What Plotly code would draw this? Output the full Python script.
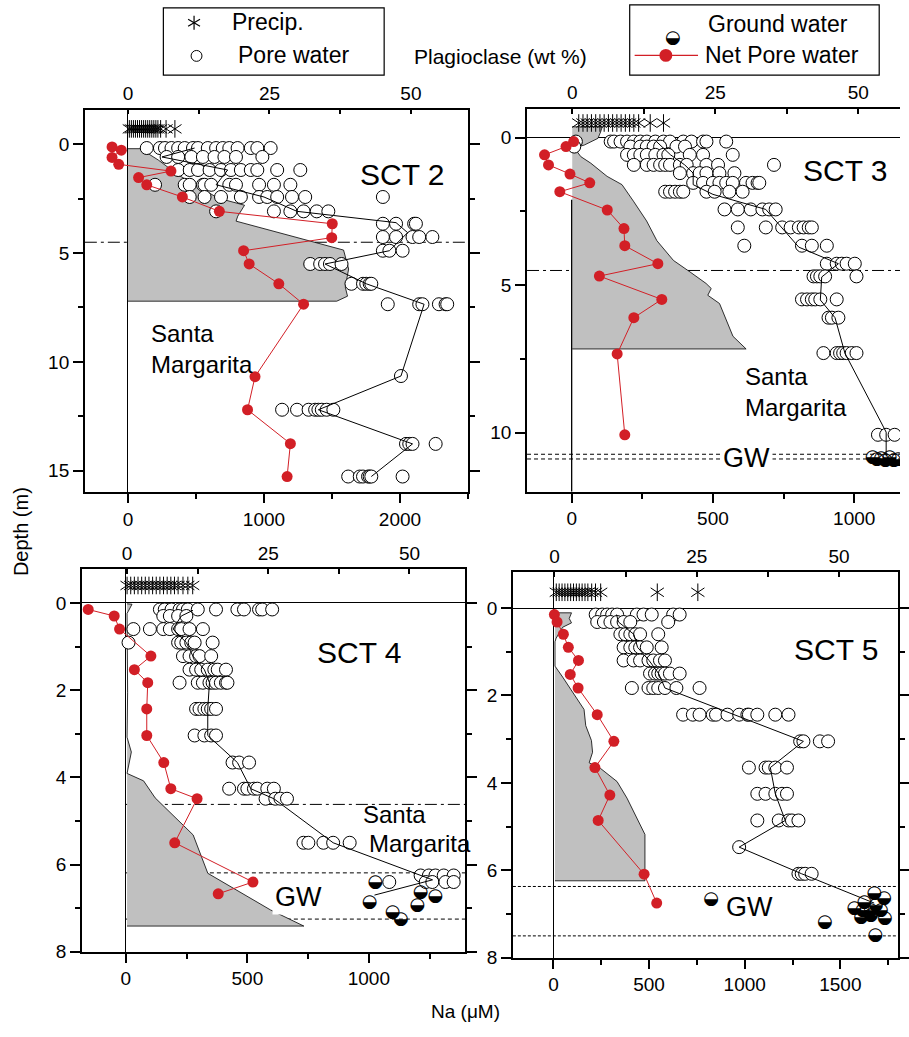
import plotly.graph_objects as go

W, H = 909, 1037
FONT = "Liberation Sans, Arial, sans-serif"
RED = "#d21f26"
GRAY = "#c0c0c0"

# ------------------------------------------------------------------ DATA
# ---- SCT 2
sct2_precip_depth = -0.71
sct2_precip_na = [10, 25, 40, 55, 70, 85, 100, 115, 130, 145, 160, 175, 190, 205, 220, 240, 280, 345]
sct2_pore_depths = [0.17, 0.58, 1.18, 1.86, 2.42, 3.08, 3.65, 4.26, 4.89, 5.5, 6.41, 7.35, 10.65, 12.2, 13.77, 15.27]
sct2_pore_na = [
    [138, 235, 272, 320, 369, 417, 478, 515, 587, 648, 697, 745, 806, 903, 951, 1049],
    [284, 369, 466, 551, 636, 709, 794, 988],
    [369, 454, 515, 600, 684, 757, 830, 903, 951, 1097, 1267],
    [199, 417, 454, 551, 563, 612, 745, 794, 964, 1073, 1194],
    [454, 563, 684, 830, 964, 1024, 1097, 1206, 1303, 1874],
    [648, 1073, 1194, 1291, 1388, 1473],
    [1874, 1971, 2104, 2117],
    [1874, 1971, 2092, 2141, 2238],
    [1874, 1922, 2019],
    [1340, 1413, 1449, 1485, 1570],
    [1643, 1728, 1752, 1777, 1789],
    [1910, 2141, 2165, 2286, 2335, 2347],
    [2007],
    [1133, 1243, 1328, 1376, 1400, 1425, 1461, 1510],
    [2044, 2068, 2092, 2262],
    [1619, 1704, 1728, 1765, 1777, 1789, 2019],
]
sct2_mean_depth = [0.17, 0.58, 1.18, 1.86, 2.42, 3.08, 3.27, 3.6, 4.06, 4.89, 5.5, 6.41, 7.35, 10.65, 12.2, 13.77, 15.27]
sct2_mean_na = [490, 250, 733, 648, 1000, 1243, 1510, 1971, 2056, 1922, 1449, 1752, 2177, 2007, 1400, 2092, 1789]
sct2_net_depth = [0.12, 0.27, 0.6, 0.92, 1.23, 1.53, 1.86, 2.42, 3.08, 3.65, 4.29, 4.89, 5.5, 6.41, 7.35, 10.68, 12.2, 13.76, 15.27]
sct2_net_na = [-117, -49, -117, -68, 316, 78, 138, 400, 672, 1502, 1498, 850, 891, 1109, 1291, 934, 879, 1194, 1170]
sct2_plag_depth = [0.2, 0.2, 0.73, 1.41, 2.47, 2.8, 3.3, 3.53, 4.86, 5.73, 6.56, 6.98, 7.21, 7.21]
sct2_plag_wt = [0.0, 2.2, 5.4, 8.9, 15.9, 20.6, 19.4, 19.1, 38.1, 39.0, 38.4, 38.8, 36.9, 0.0]

# ---- SCT 3
sct3_precip_depth = -0.5
sct3_precip_na = [25, 40, 55, 70, 85, 100, 115, 130, 145, 160, 175, 190, 205, 220, 237, 278, 325]
sct3_pore_depths = [0.13, 0.3, 0.58, 0.92, 1.2, 1.53, 1.83, 2.43, 3.04, 3.66, 4.27, 4.7, 5.48, 6.1, 7.3, 10.07]
sct3_pore_na = [
    [15, 138, 150, 173, 196, 220, 243, 266, 296, 325, 348, 395, 424, 465, 477, 547],
    [9, 208, 243, 266, 290, 313, 371, 401],
    [196, 220, 243, 266, 296, 325, 342, 418, 465, 570],
    [220, 266, 290, 313, 331, 348, 383, 407, 477, 518, 716],
    [383, 430, 453, 477, 523, 576],
    [430, 465, 500, 523, 547, 570, 617, 640, 658, 664],
    [331, 348, 366, 383, 395, 477, 506, 558, 605],
    [541, 588, 634, 675, 699, 722],
    [588, 687, 745, 775, 804, 821, 839, 850],
    [611, 815, 850, 903],
    [903, 938, 956, 973, 1002],
    [856, 868, 880, 897, 1008],
    [815, 833, 850, 862, 880, 938],
    [909, 921, 944],
    [891, 938, 950, 961, 973, 991, 1008],
    [1084, 1113, 1143],
]
sct3_mean_depth = [0.13, 0.58, 0.92, 1.2, 1.59, 1.92, 2.43, 3.71, 4.27, 4.72, 5.5, 6.1, 7.3, 9.98, 10.8]
sct3_mean_na = [300, 350, 400, 430, 430, 500, 687, 804, 944, 885, 880, 932, 967, 1113, 1113]
sct3_gw_depth = [10.85, 10.9, 10.88, 10.93, 10.85, 10.95, 10.9]
sct3_gw_na = [1065, 1080, 1095, 1110, 1125, 1140, 1155]
sct3_net_depth = [0.13, 0.3, 0.58, 0.92, 1.23, 1.53, 1.83, 2.45, 3.08, 3.66, 4.27, 4.69, 5.48, 6.1, 7.33, 10.07]
sct3_net_na = [7, -20, -96, -82, -6, 64, -42, 126, 185, 188, 305, 98, 319, 220, 161, 188]
sct3_plag_depth = [-0.37, -0.37, -0.2, 0.02, 0.25, 0.34, 0.64, 0.86, 1.31, 1.59, 2.15, 2.82, 3.49, 4.16, 4.55, 4.94, 5.11, 5.34, 5.62, 6.73, 7.16, 7.16]
sct3_plag_wt = [0.0, 5.25, 4.97, 4.5, 2.08, 0.35, 1.5, 3.23, 6.1, 8.7, 10.7, 13.0, 14.8, 17.7, 20.6, 23.4, 24.3, 23.7, 25.75, 28.1, 30.4, 0.0]

# ---- SCT 4
sct4_precip_depth = -0.4
sct4_precip_na = [5, 20, 35, 50, 65, 80, 95, 110, 125, 140, 155, 170, 185, 200, 215, 235, 255, 275]
sct4_pore_depths = [0.15, 0.3, 0.6, 0.91, 1.22, 1.53, 1.83, 2.43, 3.04, 3.66, 4.26, 4.49, 5.5, 6.25, 6.4]
sct4_pore_na = [
    [140, 160, 188, 221, 235, 255, 296, 371, 459, 486, 548, 561, 602],
    [154, 181, 215, 249],
    [31, 99, 154, 181, 215, 228, 262, 317],
    [11, 215, 228, 249, 269, 283, 357],
    [235, 262, 289, 303, 351],
    [262, 289, 310, 337, 364, 378, 412],
    [221, 296, 317, 344, 357, 371, 391, 412, 418],
    [289, 303, 323, 337, 351, 371],
    [283, 323, 351, 371],
    [439, 466, 507],
    [425, 486, 500, 527, 541, 582, 609],
    [575, 615, 636, 663],
    [731, 751, 813, 853, 921],
    [1213, 1247, 1274, 1308, 1349],
    [1084, 1234, 1261, 1315, 1349],
]
sct4_mean_depth = [0.17, 0.3, 0.6, 0.91, 1.22, 1.53, 1.83, 2.43, 3.04, 3.66, 4.26, 4.49, 5.5, 6.35, 6.7]
sct4_mean_na = [276, 228, 194, 249, 276, 323, 344, 337, 337, 459, 514, 609, 853, 1262, 1023]
sct4_gw_depth = [6.4, 6.86, 6.63, 6.74, 6.95, 7.1, 7.27]
sct4_gw_na = [1027, 1003, 1213, 1274, 1200, 1098, 1132]
sct4_net_depth = [0.15, 0.3, 0.6, 1.22, 1.53, 1.83, 2.43, 3.04, 3.66, 4.26, 4.49, 5.5, 6.4, 6.67]
sct4_net_na = [-155, -48, -26, 103, 35, 90, 86, 86, 156, 185, 293, 201, 523, 380]
sct4_plag_depth = [0.02, 0.03, 0.2, 0.24, 2.06, 3.08, 3.42, 3.91, 4.08, 4.47, 5.32, 6.2, 7.04, 7.41, 7.41]
sct4_plag_wt = [0.0, 0.88, 0.18, 0.0, 0.1, 0.0, 0.76, 0.0, 2.92, 4.97, 11.7, 14.3, 25.4, 31.3, 0.0]

# ---- SCT 5
sct5_precip_depth = -0.36
sct5_precip_na = [15, 30, 45, 60, 75, 90, 105, 120, 135, 150, 165, 180, 200, 220, 247, 543, 755]
sct5_pore_depths = [0.15, 0.32, 0.6, 0.9, 1.2, 1.5, 1.83, 2.44, 3.05, 3.65, 4.25, 4.86, 5.47, 6.08]
sct5_pore_na = [
    [221, 255, 281, 307, 333, 436, 471, 514, 626, 660],
    [229, 264, 298, 333, 367, 402, 600],
    [350, 376, 402, 428, 453, 548],
    [367, 402, 428, 453, 488, 566],
    [367, 419, 453, 497, 522, 557, 583],
    [505, 531, 548, 566, 583, 609, 660],
    [410, 497, 522, 548, 583, 643, 764],
    [678, 729, 764, 833, 850, 910, 971, 1014, 1022, 1066, 1160, 1229],
    [1290, 1307, 1393, 1436],
    [1022, 1109, 1126, 1160, 1221],
    [1066, 1109, 1160, 1195, 1221],
    [1066, 1178, 1229, 1247, 1281],
    [971],
    [1281, 1298, 1316, 1350],
]
sct5_mean_depth = [0.15, 0.32, 0.6, 0.9, 1.2, 1.5, 1.83, 3.05, 3.65, 4.25, 4.86, 5.47, 6.08, 6.75]
sct5_mean_na = [330, 340, 420, 440, 500, 550, 583, 1307, 1134, 1160, 1212, 971, 1298, 1677]
sct5_gw_depth = [6.67, 7.2, 7.5, 6.54, 6.65, 6.73, 6.8, 6.88, 6.92, 6.93, 6.93, 7.07, 7.03, 7.1]
sct5_gw_na = [824, 1419, 1683, 1678, 1729, 1626, 1686, 1574, 1617, 1660, 1712, 1609, 1660, 1733]
sct5_net_depth = [0.15, 0.32, 0.6, 0.9, 1.2, 1.52, 1.83, 2.44, 3.05, 3.65, 4.28, 4.86, 6.09, 6.75]
sct5_net_na = [5, 19, 52, 78, 131, 88, 129, 229, 316, 217, 295, 234, 474, 540]
sct5_plag_depth = [0.11, 0.11, 0.24, 0.34, 0.44, 0.69, 0.77, 1.33, 1.58, 1.94, 2.32, 2.69, 3.03, 3.3, 3.54, 3.67, 3.97, 4.35, 5.18, 6.24, 6.24]
sct5_plag_wt = [0.1, 3.0, 2.6, 3.0, 1.45, 0.3, 0.1, 0.1, 1.45, 3.2, 5.2, 5.5, 6.5, 6.7, 6.1, 8.1, 11.0, 12.75, 15.9, 15.9, 0.1]

# tick labels
plag_ticks = [0, 25, 50]


# ------------------------------------------------------------------ helpers
def px(x):
    return x / W


def py(y):
    return 1 - y / H


def flatten(depths, rows):
    xs, ys = [], []
    for d, row in zip(depths, rows):
        for v in row:
            xs.append(v)
            ys.append(d)
    return xs, ys


panels = [
    dict(title="SCT 2", xdom=(85.7, 472.7), ydom=(110.7, 497.7), na_range=(-317, 2500),
         d_range=(-1.6, 16.0), plag_range=(-7.63, 60.1), na_dtick=1000, na_minor=500,
         d_dtick=5, d_minor=2.5, mirror="ticks", zero_depth=False, na_zero=True,
         precip=(sct2_precip_depth, sct2_precip_na), pore=(sct2_pore_depths, sct2_pore_na),
         mean=(sct2_mean_depth, sct2_mean_na), gw=None, net=(sct2_net_depth, sct2_net_na),
         plag=(sct2_plag_depth, sct2_plag_wt)),
    dict(title="SCT 3", xdom=(532.3, 909), ydom=(110, 497), na_range=(-158, 1162),
         d_range=(-0.98, 12.0), plag_range=(-7.9, 57.3), na_dtick=500, na_minor=250,
         d_dtick=5, d_minor=2.5, mirror=False, zero_depth=True, na_zero=False,
         precip=(sct3_precip_depth, sct3_precip_na), pore=(sct3_pore_depths, sct3_pore_na),
         mean=(sct3_mean_depth, sct3_mean_na), gw=(sct3_gw_depth, sct3_gw_na),
         net=(sct3_net_depth, sct3_net_na), plag=(sct3_plag_depth, sct3_plag_wt)),
    dict(title="SCT 4", xdom=(82.7, 470), ydom=(575, 962), na_range=(-181, 1397),
         d_range=(-0.78, 8.0), plag_range=(-8.0, 59.9), na_dtick=500, na_minor=250,
         d_dtick=2, d_minor=1, mirror="ticks", zero_depth=True, na_zero=True,
         precip=(sct4_precip_depth, sct4_precip_na), pore=(sct4_pore_depths, sct4_pore_na),
         mean=(sct4_mean_depth, sct4_mean_na), gw=(sct4_gw_depth, sct4_gw_na),
         net=(sct4_net_depth, sct4_net_na), plag=(sct4_plag_depth, sct4_plag_wt)),
    dict(title="SCT 5", xdom=(518, 906.7), ydom=(578.3, 968), na_range=(-212, 1800),
         d_range=(-0.82, 8.0), plag_range=(-7.3, 60.3), na_dtick=500, na_minor=250,
         d_dtick=2, d_minor=1, mirror="ticks", zero_depth=True, na_zero=True,
         precip=(sct5_precip_depth, sct5_precip_na), pore=(sct5_pore_depths, sct5_pore_na),
         mean=(sct5_mean_depth, sct5_mean_na), gw=(sct5_gw_depth, sct5_gw_na),
         net=(sct5_net_depth, sct5_net_na), plag=(sct5_plag_depth, sct5_plag_wt)),
]

fig = go.Figure()
layout = dict(
    width=W, height=H, margin=dict(l=0, r=0, t=0, b=0),
    paper_bgcolor="white", plot_bgcolor="rgba(0,0,0,0)",
    showlegend=False, font=dict(family=FONT, size=19, color="black"),
)
shapes = []
annotations = []

TICKFONT = dict(family=FONT, size=19, color="black")
NA_IDS = []

for k, p in enumerate(panels):
    # base axis = plagioclase (top), overlay axis = Na (bottom) so Na traces draw above the shading
    xt = "x" if k == 0 else f"x{2 * k + 1}"
    xa = f"x{2 * k + 2}"
    ya = "y" if k == 0 else f"y{k + 1}"
    xt_key = "xaxis" if k == 0 else f"xaxis{2 * k + 1}"
    xa_key = f"xaxis{2 * k + 2}"
    ya_key = "yaxis" if k == 0 else f"yaxis{k + 1}"
    NA_IDS.append((xa, ya))
    xd = [px(p["xdom"][0]), min(1.0, px(p["xdom"][1]))]
    yd = [py(p["ydom"][1]), py(p["ydom"][0])]

    layout[xt_key] = dict(
        domain=xd, anchor=ya, side="top", range=list(p["plag_range"]),
        tickvals=plag_ticks, ticks="inside", ticklen=5, tickwidth=1.5, tickcolor="black",
        minor=dict(dtick=12.5, tick0=0, ticks="inside", ticklen=5, tickwidth=1.5,
                   tickcolor="black", showgrid=False),
        showline=True, linewidth=1.6, linecolor="black",
        showgrid=False, zeroline=False, tickfont=TICKFONT,
    )
    layout[xa_key] = dict(
        overlaying=xt, anchor=ya, side="bottom", range=list(p["na_range"]), tick0=0,
        dtick=p["na_dtick"],
        ticks="outside", ticklen=9, tickwidth=1.5, tickcolor="black",
        minor=dict(dtick=p["na_minor"], tick0=0, ticks="outside", ticklen=5, tickwidth=1.5,
                   tickcolor="black", showgrid=False),
        showline=True, linewidth=1.6, linecolor="black", mirror=False,
        showgrid=False, zeroline=p["na_zero"], zerolinecolor="black", zerolinewidth=1.3,
        tickfont=TICKFONT,
    )
    layout[ya_key] = dict(
        domain=yd, anchor=xt, range=[p["d_range"][1], p["d_range"][0]], tick0=0,
        dtick=p["d_dtick"], ticks="outside", ticklen=10, tickwidth=1.5, tickcolor="black",
        minor=dict(dtick=p["d_minor"], tick0=0, ticks="outside", ticklen=5, tickwidth=1.5,
                   tickcolor="black", showgrid=False),
        showline=True, linewidth=1.6, linecolor="black", mirror=p["mirror"],
        showgrid=False, zeroline=p["zero_depth"], zerolinecolor="black", zerolinewidth=1.1,
        tickfont=TICKFONT,
    )

    # plagioclase shaded profile
    fig.add_trace(go.Scatter(
        x=p["plag"][1], y=p["plag"][0], xaxis=xt, yaxis=ya, mode="lines",
        fill="toself", fillcolor=GRAY, line=dict(color="black", width=0.8),
        hoverinfo="skip"))

    # precipitation asterisks (two Y symbols = six-armed asterisk)
    pd_, pn = p["precip"]
    for sym in ["y-up-open", "y-down-open"]:
        fig.add_trace(go.Scatter(
            x=pn, y=[pd_] * len(pn), xaxis=xa, yaxis=ya, mode="markers",
            marker=dict(symbol=sym, size=11, color="black", line=dict(color="black", width=1))))

    # pore water circles
    xs, ys = flatten(*p["pore"])
    fig.add_trace(go.Scatter(
        x=xs, y=ys, xaxis=xa, yaxis=ya, mode="markers",
        marker=dict(symbol="circle", size=13, color="white", line=dict(color="black", width=1))))

    # mean pore water profile
    fig.add_trace(go.Scatter(
        x=p["mean"][1], y=p["mean"][0], xaxis=xa, yaxis=ya, mode="lines",
        line=dict(color="black", width=1)))

    # ground water half-filled circles
    if p["gw"] is not None:
        fig.add_trace(go.Scatter(
            x=p["gw"][1], y=p["gw"][0], xaxis=xa, yaxis=ya, mode="text",
            text=["\u25d2"] * len(p["gw"][1]), textposition="middle center",
            textfont=dict(family="DejaVu Sans", size=18, color="black")))

    # net pore water
    fig.add_trace(go.Scatter(
        x=p["net"][1], y=p["net"][0], xaxis=xa, yaxis=ya, mode="lines+markers",
        line=dict(color=RED, width=1), marker=dict(symbol="circle", size=11, color=RED)))

# ---- reference lines
DASHDOT = "12px,4px,3px,4px"
DASH = "4px,3px"
(n1, d1), (n2, d2), (n3, d3), (n4, d4) = NA_IDS
ref_lines = [
    # (xref, yref, x0, x1, depth, dash)
    (n1, d1, -317, 2500, 4.5, DASHDOT),
    (n2, d2, -158, 1162, 4.5, DASHDOT),
    (n2, d2, -158, 1162, 10.73, DASH),
    (n2, d2, -158, 1162, 10.89, DASH),
    (n3, d3, 0, 1397, 4.62, DASHDOT),
    (n3, d3, 0, 1397, 6.19, DASH),
    (n3, d3, 0, 1397, 7.25, DASH),
    (n4, d4, -212, 1800, 6.37, "3px,2px"),
    (n4, d4, -212, 1800, 7.5, "3px,2px"),
]
for xr, yr, x0, x1, d, dash in ref_lines:
    shapes.append(dict(type="line", xref=xr, yref=yr, x0=x0, x1=x1, y0=d, y1=d,
                       line=dict(color="black", width=1, dash=dash), layer="below"))
# partial Na = 0 line in SCT 3
shapes.append(dict(type="line", xref=n2, yref=d2, x0=0, x1=0, y0=2.1, y1=12.0,
                   line=dict(color="black", width=1.3)))


# ---- panel texts
def ann(text, x, y, size, xanchor="center", bg=None, **kw):
    a = dict(text=text, x=px(x), y=py(y), xref="paper", yref="paper", showarrow=False,
             xanchor=xanchor, yanchor="middle", font=dict(family=FONT, size=size, color="black"))
    if bg:
        a["bgcolor"] = bg
        a["borderpad"] = 2
    a.update(kw)
    annotations.append(a)


ann("SCT 2", 406, 176, 30)
ann("SCT 3", 853, 172, 30)
ann("SCT 4", 363, 659, 30)
ann("SCT 5", 844, 656, 30)
ann("Santa<br>Margarita", 150, 353, 24, xanchor="left", align="left")
ann("Santa<br>Margarita", 750, 396, 24, xanchor="left", align="left")
ann("Santa", 365, 823, 24, xanchor="left")
ann("Margarita", 371, 853, 24, xanchor="left")
ann("GW", 754, 463, 27, bg="white")
ann("GW", 301, 907, 27, bg="white")
ann("GW", 757, 917, 27)
ann("Depth (m)", 22, 537, 20, textangle=-90)
ann("Na (\u03bcM)", 470, 1022, 19)
ann("Plagioclase (wt %)", 505, 57, 21)

# ---- legends (drawn as layout decorations)
shapes.append(dict(type="rect", xref="paper", yref="paper", x0=px(165), x1=px(388),
                   y0=py(76), y1=py(8), line=dict(color="black", width=1.2)))
shapes.append(dict(type="rect", xref="paper", yref="paper", x0=px(636), x1=px(888),
                   y0=py(76), y1=py(5), line=dict(color="black", width=1.2)))
# asterisk key
cx, cy = 196, 23
for (ax0, ay0, ax1, ay1) in [(0, -7, 0, 7), (-6, -3.5, 6, 3.5), (-6, 3.5, 6, -3.5)]:
    shapes.append(dict(type="line", xref="paper", yref="paper",
                       x0=px(cx + ax0), y0=py(cy + ay0), x1=px(cx + ax1), y1=py(cy + ay1),
                       line=dict(color="black", width=1.2)))
# pore water key
shapes.append(dict(type="circle", xref="paper", yref="paper", x0=px(193), x1=px(204),
                   y0=py(62), y1=py(51), line=dict(color="black", width=1), fillcolor="white"))
# net pore water key
shapes.append(dict(type="line", xref="paper", yref="paper", x0=px(641), x1=px(705),
                   y0=py(56), y1=py(56), line=dict(color=RED, width=1.2)))
shapes.append(dict(type="circle", xref="paper", yref="paper", x0=px(666), x1=px(679),
                   y0=py(62.5), y1=py(49.5), line=dict(color=RED, width=0), fillcolor=RED))
annotations.append(dict(text="\u25d2", x=px(690), y=py(24), xref="paper", yref="paper",
                        showarrow=False, font=dict(family="DejaVu Sans", size=18, color="black")))
ann("Precip.", 232, 22, 23, xanchor="left")
ann("Pore water", 238, 56, 23, xanchor="left")
ann("Ground water", 713, 24, 23, xanchor="left")
ann("Net Pore water", 710, 56, 23, xanchor="left")

layout["shapes"] = shapes
layout["annotations"] = annotations
fig.update_layout(**layout)
fig.write_html(
    "out.html",
    post_script="document.body.style.margin='0';document.body.style.padding='0';",
)
